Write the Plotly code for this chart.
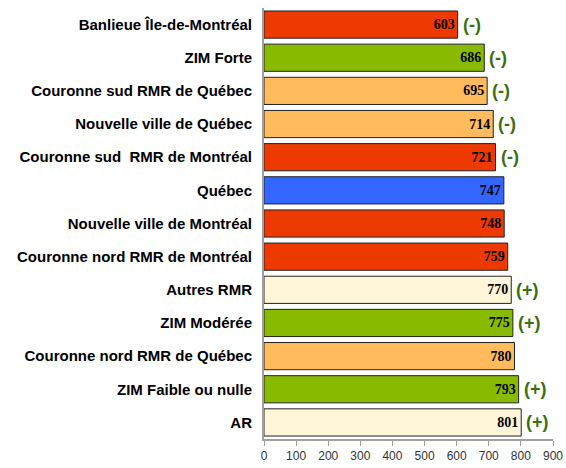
import plotly.graph_objects as go

# Data (top to bottom as in the picture)
labels = [
    "Banlieue Île-de-Montréal",
    "ZIM Forte",
    "Couronne sud RMR de Québec",
    "Nouvelle ville de Québec",
    "Couronne sud  RMR de Montréal",
    "Québec",
    "Nouvelle ville de Montréal",
    "Couronne nord RMR de Montréal",
    "Autres RMR",
    "ZIM Modérée",
    "Couronne nord RMR de Québec",
    "ZIM Faible ou nulle",
    "AR",
]
values = [603, 686, 695, 714, 721, 747, 748, 759, 770, 775, 780, 793, 801]
signs = ["(-)", "(-)", "(-)", "(-)", "(-)", "", "", "", "(+)", "(+)", "", "(+)", "(+)"]
groups = ["mtl", "zim", "qc", "qc", "mtl", "prov", "mtl", "mtl", "rmr", "zim", "qc", "zim", "rmr"]

palette = {
    "mtl": "#EE3A00",
    "zim": "#88BB00",
    "qc": "#FFBB5C",
    "prov": "#3366FF",
    "rmr": "#FFF5D8",
}
colors = [palette[g] for g in groups]

fig = go.Figure()

fig.add_trace(go.Bar(
    y=labels,
    x=values,
    orientation="h",
    marker=dict(color=colors, line=dict(color="#222222", width=1)),
    text=[str(v) for v in values],
    textposition="inside",
    insidetextanchor="end",
    textangle=0,
    insidetextfont=dict(family="Liberation Serif", size=14, color="black", weight="bold"),
    hoverinfo="skip",
))

# (+) / (-) markers next to bars
for lab, v, s in zip(labels, values, signs):
    if s:
        fig.add_annotation(
            x=v, y=lab, text="<b>" + s + "</b>", showarrow=False,
            xanchor="left", xshift=3,
            font=dict(family="Arial", size=18, color="#3A6E12"),
        )

fig.update_layout(
    width=566,
    height=468,
    margin=dict(l=264, r=13, t=8, b=29, autoexpand=False),
    plot_bgcolor="white",
    paper_bgcolor="white",
    showlegend=False,
    bargap=0.18,
    font=dict(family="Arial", color="black"),
    uniformtext=dict(minsize=8, mode="show"),
)

fig.update_xaxes(
    range=[0, 900],
    dtick=100,
    automargin=False,
    showgrid=False,
    zeroline=False,
    showline=True,
    linecolor="#A0A0A0",
    linewidth=2,
    ticks="outside",
    ticklen=5,
    tickcolor="#A0A0A0",
    tickwidth=1,
    tickfont=dict(family="Arial", size=12, color="#333333"),
)

fig.update_yaxes(
    categoryorder="array",
    categoryarray=labels[::-1],
    automargin=False,
    showgrid=False,
    showline=True,
    linecolor="#A0A0A0",
    linewidth=2,
    ticks="",
    ticklabelstandoff=7,
    tickfont=dict(family="Arial", size=15, color="black", weight="bold"),
)

fig.update_traces(cliponaxis=False)

fig.write_html(
    "out.html",
    config={"displayModeBar": False},
    post_script="document.body.style.margin='0';",
)
